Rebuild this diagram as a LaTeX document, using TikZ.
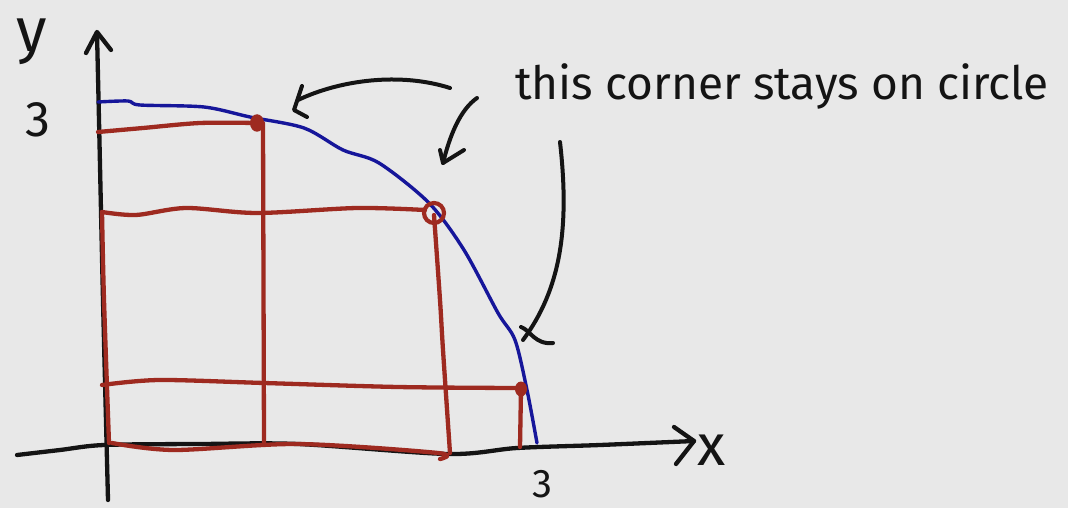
\documentclass[tikz,border=0pt]{standalone}
\usepackage{fontspec}
\setmainfont{Fira Sans}
\usetikzlibrary{arrows.meta,shapes.geometric}
\definecolor{bg}{HTML}{E8E8E8}
\definecolor{ink}{HTML}{141414}
\definecolor{redink}{HTML}{9E2A20}
\definecolor{blueink}{HTML}{16169A}
\begin{document}
\begin{tikzpicture}[x=1pt,y=-1pt,line cap=round,line join=round,
  axis/.style={draw=ink,line width=4.3pt},
  redl/.style={draw=redink,line width=4.3pt},
  bluel/.style={draw=blueink,line width=3.4pt},
  note/.style={draw=ink,line width=4pt},
  lbl/.style={text=ink,inner sep=0pt},
  reddot/.style={ellipse,fill=redink,inner sep=0pt,minimum width=#1,minimum height=1.25*#1},
  redring/.style={circle,draw=redink,line width=4.2pt,inner sep=0pt,minimum size=#1}]
\fill[bg] (0,0) rectangle (1068,508);
\useasboundingbox (0,0) rectangle (1068,508);
% axes
\draw[axis] plot[smooth] coordinates {(108,500) (103,300) (99,120) (97,33)};
\draw[axis] (86,53) -- (97,32) -- (111,50);
\draw[axis] plot[smooth] coordinates {(17,455) (60,450) (104,445) (200,444) (298,444) (448,454) (517,448) (600,445) (694,441)};
\draw[axis] (674,427) -- (694,441) -- (676,464);
% red grid
\draw[redl] plot[smooth] coordinates {(98,132) (143,128) (200,123) (256,123)};
\draw[redl] (263,123) -- (264,443);
\draw[redl] plot[smooth] coordinates {(102,212) (136,215) (186,208) (257,213) (357,208) (425,210)};
\draw[redl] plot[smooth] coordinates {(434,215) (440,300) (443,350) (450,453)};
\draw[redl] plot[smooth] coordinates {(102,385) (159,380) (264,383) (398,387) (517,388)};
\draw[redl] (521,390) -- (520,447);
\draw[redl] plot[smooth] coordinates {(102,212) (104,300) (109,443)};
\draw[redl] plot[smooth] coordinates {(112,443) (174,450) (298,444) (438,453) (440,459)};
% blue curve
\draw[bluel] plot[smooth] coordinates {(98,102) (128,101) (140,105) (204,107) (250,117) (304,128) (343,150) (379,163) (429,203) (464,250) (498,313) (515,340) (527,390) (537,443)};
% corner marks
\node[reddot=14pt] (c1) at (257,123) {};
\node[redring=20pt] (c2) at (434,213) {};
\node[reddot=12pt] (c3) at (521,389) {};
% labels
\node[lbl,anchor=base,font=\fontsize{62}{62}\selectfont] (ylab) at (32,52) {y};
\node[lbl,anchor=base,font=\fontsize{50}{50}\selectfont] (ythree) at (38,137) {3};
\node[lbl,anchor=base,text depth=0pt,font=\fontsize{40}{40}\selectfont] (xthree) at (542,497) {3};
\node[lbl,anchor=base,font=\fontsize{58}{58}\selectfont] (xlab) at (712,465) {x};
\node[lbl,anchor=base west,font=\fontsize{46}{46}\selectfont] (note) at (515,100) {this corner stays on circle};
% annotation arrows
\coordinate (a1s) at (450,88);
\coordinate (a1e) at (298,100);
\draw[note] (a1s) .. controls (400,72) and (340,80) .. (a1e);
\draw[note] (302,86) -- (294,110) -- (307,117);
\coordinate (a2s) at (477,98);
\coordinate (a2e) at (443,163);
\draw[note] (a2s) .. controls (460,110) and (450,135) .. (a2e);
\draw[note] (440,150) -- (a2e) -- (464,150);
\coordinate (a3s) at (560,142);
\coordinate (a3e) at (523,340);
\draw[note] (a3s) .. controls (570,230) and (560,290) .. (a3e);
\draw[note] (521,327) .. controls (530,330) and (535,345) .. (553,343);
\end{tikzpicture}
\end{document}
